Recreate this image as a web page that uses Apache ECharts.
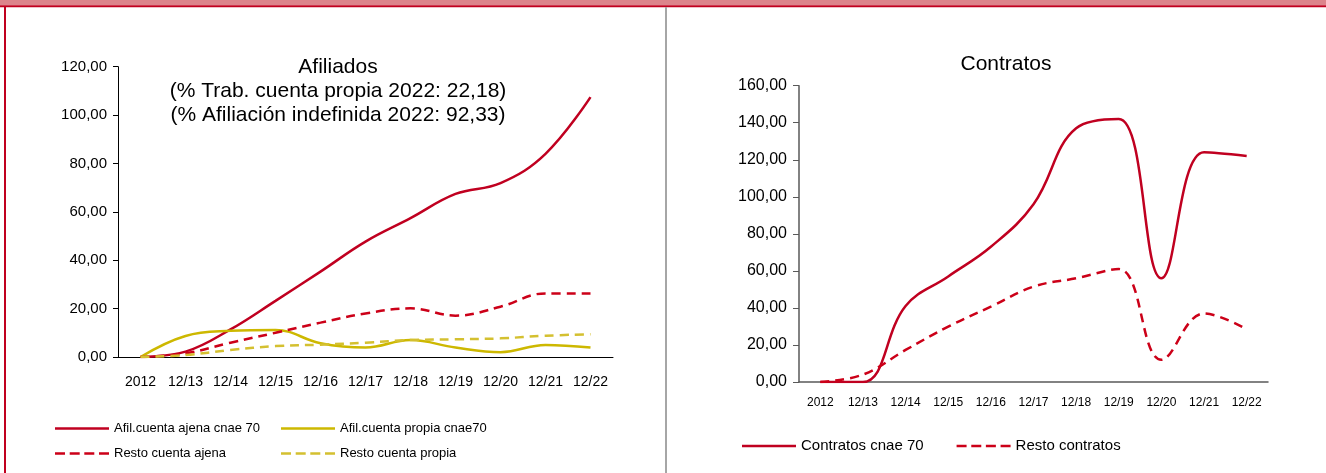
<!DOCTYPE html>
<html><head><meta charset="utf-8">
<script src="https://cdn.jsdelivr.net/npm/echarts@6/dist/echarts.min.js"></script>
<style>html,body{margin:0;padding:0;background:#fff}#c{width:1326px;height:473px}</style>
</head><body><div id="c"></div>
<script>
// ---- data ----
const categories = ['2012','12/13','12/14','12/15','12/16','12/17','12/18','12/19','12/20','12/21','12/22'];
const afilAjena      = [0, 2.2, 11.4, 23.2, 35.3, 47.7, 57.4, 67.4, 71.9, 84.0, 107.4];
const afilPropia     = [0, 8.7, 10.8, 11.2, 5.7, 3.9, 7.0, 3.9, 2.0, 5.0, 3.9];
const restoAjena     = [0, 1.5, 5.9, 10.0, 14.2, 18.0, 20.1, 17.1, 20.8, 26.3, 26.3];
const restoPropia    = [0, 0.8, 2.9, 4.5, 5.1, 5.9, 7.0, 7.3, 7.7, 8.8, 9.4];
const contratos      = [0, 0, 41, 57, 73, 96, 137, 142, 56, 124, 122];
const restoContratos = [0, 4, 17.3, 29.9, 40.7, 51.5, 56, 61, 12, 37, 28.5];
const seriesNames = ['Afil.cuenta ajena cnae 70','Afil.cuenta propia cnae70','Resto cuenta ajena','Resto cuenta propia','Contratos cnae 70','Resto contratos'];
const afilTitle = ['Afiliados','(% Trab. cuenta propia 2022: 22,18)','(% Afiliación indefinida 2022: 92,33)'];
const contTitle = 'Contratos';
const afilAxis = {min: 0, max: 120, interval: 20};
const contAxis = {min: 0, max: 160, interval: 20};

// ---- styles ----
const RED = '#C00020', RED2 = '#CC0018', YEL = '#CDB800', YEL2 = '#D4C030';
const FONT = '"Liberation Sans", Arial, sans-serif';
const fmt = v => v.toFixed(2).replace('.', ',');
const SM = 0.4;
const ICON_SOLID = 'path://M0,0H54V2.5H0Z';
const ICON_DASH = 'path://M0,0H10V2.5H0Z M14.7,0H24.7V2.5H14.7Z M29.3,0H39.3V2.5H29.3Z M44,0H54V2.5H44Z';

const chart = echarts.init(document.getElementById('c'), null, {renderer: 'canvas'});
function line(name, data, idx, color, dashed) {
  return {
    name, type: 'line', data, xAxisIndex: idx, yAxisIndex: idx,
    smooth: SM, symbol: 'none', animation: false,
    lineStyle: {color, width: 2.5, type: dashed ? [9, 6] : 'solid'},
    itemStyle: {color}
  };
}
const legendBase = {
  itemWidth: 54, itemHeight: 2.5,
  textStyle: {fontFamily: FONT, fontSize: 13, color: '#000', lineHeight: 17}
};
chart.setOption({
  animation: false,
  backgroundColor: '#fff',
  textStyle: {fontFamily: FONT},
  title: [
    {text: afilTitle.join('\n'), left: 333, top: 50, textAlign: 'center',
     textStyle: {fontFamily: FONT, fontSize: 21, fontWeight: 'normal', color: '#000', lineHeight: 24}},
    {text: contTitle, left: 1001, top: 49, textAlign: 'center',
     textStyle: {fontFamily: FONT, fontSize: 21, fontWeight: 'normal', color: '#000'}}
  ],
  legend: [
    Object.assign({}, legendBase, {data: [{name: seriesNames[0], icon: ICON_SOLID}, {name: seriesNames[2], icon: ICON_DASH}],
      orient: 'vertical', left: 50, top: 415, itemGap: 8}),
    Object.assign({}, legendBase, {data: [{name: seriesNames[1], icon: ICON_SOLID}, {name: seriesNames[3], icon: ICON_DASH}],
      orient: 'vertical', left: 276, top: 415, itemGap: 8}),
    Object.assign({}, legendBase, {data: [{name: seriesNames[4], icon: ICON_SOLID}, {name: seriesNames[5], icon: ICON_DASH}],
      orient: 'horizontal', left: 737, top: 432, itemGap: 33,
      textStyle: {fontFamily: FONT, fontSize: 15, color: '#000', lineHeight: 18}})
  ],
  grid: [
    {left: 118, right: 713, top: 66.7, bottom: 116, containLabel: false},
    {left: 799, right: 58, top: 85.7, bottom: 91, containLabel: false}
  ],
  xAxis: [
    {type: 'category', gridIndex: 0, data: categories, boundaryGap: true,
     axisLine: {lineStyle: {color: '#000', width: 1}}, axisTick: {show: false},
     axisLabel: {fontFamily: FONT, fontSize: 14, color: '#000', margin: 18, interval: 0}},
    {type: 'category', gridIndex: 1, data: categories, boundaryGap: true,
     axisLine: {lineStyle: {color: '#595959', width: 1.5}}, axisTick: {show: false},
     axisLabel: {fontFamily: FONT, fontSize: 12, color: '#000', margin: 15, interval: 0}}
  ],
  yAxis: [
    {type: 'value', gridIndex: 0, min: afilAxis.min, max: afilAxis.max, interval: afilAxis.interval,
     splitLine: {show: false},
     axisLine: {show: true, lineStyle: {color: '#000', width: 1}},
     axisTick: {show: true, length: 5, lineStyle: {color: '#000'}},
     axisLabel: {formatter: fmt, fontFamily: FONT, fontSize: 15, color: '#000', margin: 11}},
    {type: 'value', gridIndex: 1, min: contAxis.min, max: contAxis.max, interval: contAxis.interval,
     splitLine: {show: false},
     axisLine: {show: true, lineStyle: {color: '#595959', width: 1.5}},
     axisTick: {show: true, length: 6, lineStyle: {color: '#595959'}},
     axisLabel: {formatter: fmt, fontFamily: FONT, fontSize: 16, color: '#000', margin: 12}}
  ],
  series: [
    line(seriesNames[0], afilAjena, 0, RED, false),
    line(seriesNames[1], afilPropia, 0, YEL, false),
    line(seriesNames[2], restoAjena, 0, RED2, true),
    line(seriesNames[3], restoPropia, 0, YEL2, true),
    line(seriesNames[4], contratos, 1, RED, false),
    line(seriesNames[5], restoContratos, 1, RED2, true)
  ],
  graphic: [
    {type: 'rect', shape: {x: 0, y: 0, width: 1326, height: 5.3}, style: {fill: '#DC848B'}, silent: true},
    {type: 'rect', shape: {x: 0, y: 5.3, width: 1326, height: 2}, style: {fill: '#C0001E'}, silent: true},
    {type: 'rect', shape: {x: 4, y: 7, width: 2, height: 466}, style: {fill: '#C0001E'}, silent: true},
    {type: 'rect', shape: {x: 665, y: 7, width: 2, height: 466}, style: {fill: '#A6A6A6'}, silent: true}
  ]
});
</script>
</body></html>
